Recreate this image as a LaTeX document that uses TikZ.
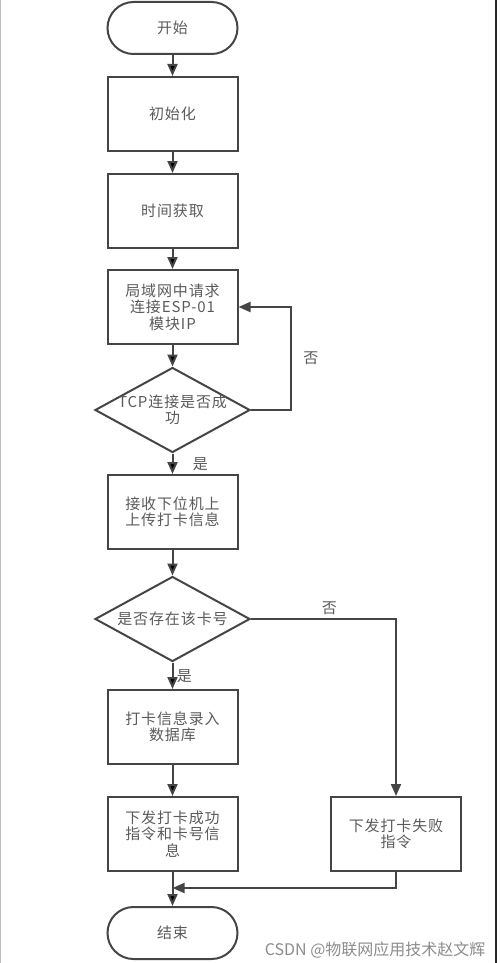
\documentclass[tikz,border=0pt]{standalone}
\usepackage{fontspec}
\usepackage{tikz}
\usetikzlibrary{positioning, shapes.geometric, arrows.meta}
\newfontfamily\cjkfont[LetterSpace=6]{Noto Sans CJK SC}
\newfontfamily\markfont{Noto Sans CJK SC}
\definecolor{linegray}{HTML}{454545}
\definecolor{textgray}{HTML}{5A5A5A}

\tikzset{
  lbl/.style={font=\cjkfont\fontsize{15}{16.5}\selectfont, text=textgray, align=center},
  base/.style={lbl, draw=linegray, line width=2pt},
  terminal/.style={base, rectangle, rounded corners=26pt, minimum width=130pt, minimum height=52pt},
  process/.style={base, rectangle, minimum width=130pt, minimum height=74pt},
  decision/.style={base, diamond, minimum width=155pt, minimum height=85pt, inner sep=0pt},
  flow/.style={->, draw=linegray, line width=2pt},
}

\begin{document}
\begin{tikzpicture}[>={Triangle[width=10pt,length=12pt]}, on grid, auto]
  \useasboundingbox (0,0) rectangle (500pt,-963pt);
  \draw[black!25, line width=1pt] (0.5pt,0) -- (0.5pt,-963pt);
  \draw[black!85, line width=2pt] (496pt,0) -- (496pt,-963pt);

  \node[terminal] (start) at (172.5pt,-28pt) {开始};
  \node[process] (init) [below=86pt of start] {初始化};
  \node[process] (time) [below=97pt of init] {时间获取};
  \node[process] (req) [below=96pt of time] {局域网中请求\\连接ESP-01\\模块IP};
  \node[decision, label={[lbl]center:TCP连接是否成\\功}] (tcp) [below=103pt of req] {};
  \node[process] (recv) [below=102pt of tcp] {接收下位机上\\上传打卡信息};
  \node[decision, label={[lbl]center:是否存在该卡号}] (card) [below=107pt of recv] {};
  \node[process] (db) [below=108pt of card] {打卡信息录入\\数据库};
  \node[process] (ok) [below=107pt of db] {下发打卡成功\\指令和卡号信\\息};
  \node[process] (fail) [right=223.5pt of ok] {下发打卡失败\\指令};
  \node[terminal] (end) [below=99pt of ok] {结束};
  \coordinate (merge) at ([yshift=-16pt]fail.south);

  \path[flow]
  (start) edge (init)
  (init) edge (time)
  (time) edge (req)
  (req) edge (tcp)
  (tcp) edge node[lbl, xshift=16pt] {是} (recv)
  (recv) edge (card)
  (card) edge node[lbl] {是} (db)
  (db) edge (ok)
  (ok) edge (end);

  \draw[flow] (tcp.east) -- ++(40pt,0) |- node[lbl, pos=0.25, right=8pt] {否} (req.east);
  \draw[flow] (card.east) -| node[lbl, pos=0.27, above] {否} (fail.north);
  \draw[flow] (fail.south) -- (merge) -- (merge -| ok.south);

  \node[font=\markfont\fontsize{16}{16}\selectfont, text=black!45, anchor=east] (mark) at (489pt,-950pt) {CSDN @物联网应用技术赵文辉};
\end{tikzpicture}
\end{document}
